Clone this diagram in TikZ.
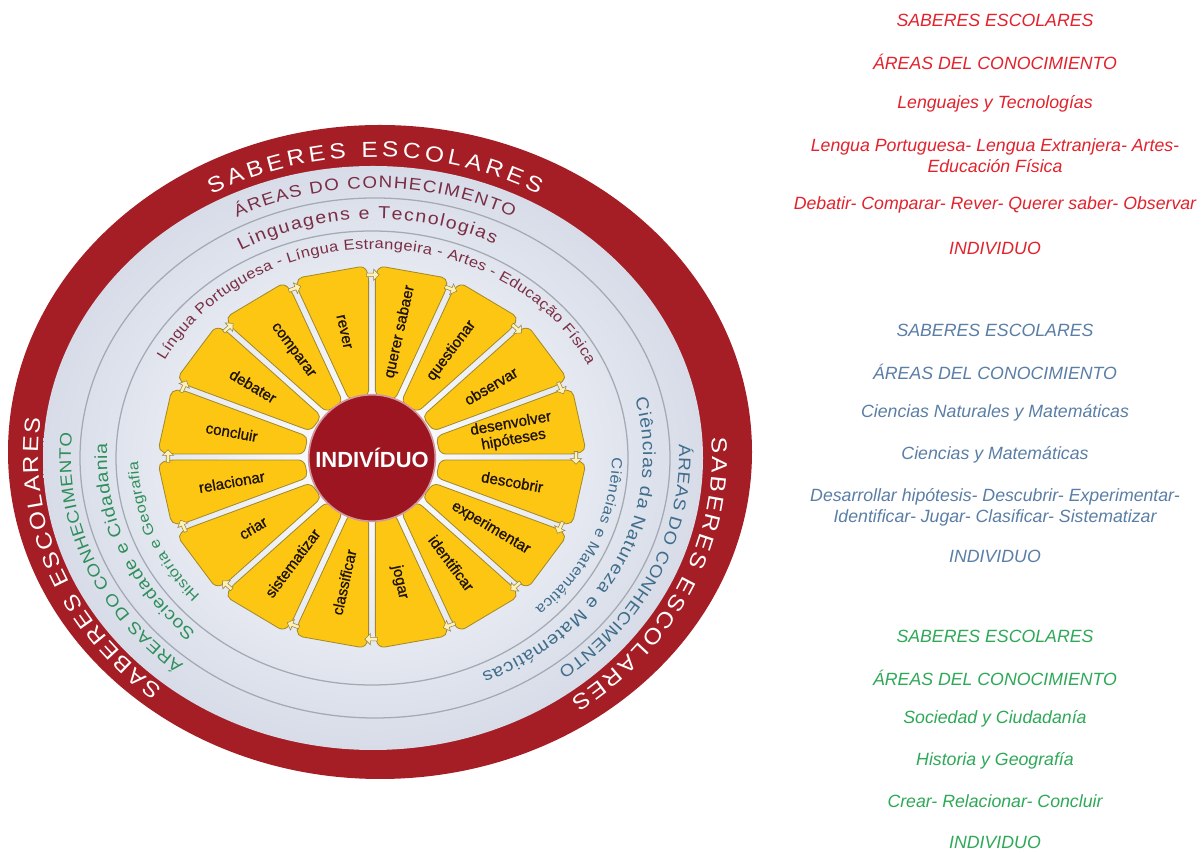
\documentclass[tikz,border=0pt]{standalone}
\usepackage{fontspec}
\setmainfont{Liberation Sans}
\newfontfamily\wheelfont[FakeStretch=1.12]{Liberation Sans}
\newfontfamily\petalfont[FakeBold=1]{Liberation Sans}
\usepackage{tikz}
\usetikzlibrary{positioning,decorations.text,shapes.arrows}
\definecolor{cRim}{HTML}{A51D25}
\definecolor{cHub}{HTML}{9C1520}
\definecolor{cBand}{HTML}{D7DCE8}
\definecolor{cLine}{HTML}{A4A9B4}
\definecolor{cPetal}{HTML}{FDC612}
\definecolor{cPetalEdge}{HTML}{A38B2B}
\definecolor{cArrow}{HTML}{FFF1B5}
\definecolor{cLang}{HTML}{7A2E45}
\definecolor{cNat}{HTML}{3F6D8C}
\definecolor{cSoc}{HTML}{2F8F5B}
\definecolor{cKeyRed}{HTML}{E2222C}
\definecolor{cKeyBlue}{HTML}{5A7EA6}
\definecolor{cKeyGreen}{HTML}{2EA957}
\newcommand\rimfont{\wheelfont\fontsize{15.5pt}{16pt}\selectfont}
\newcommand\areafont{\wheelfont\fontsize{11.9pt}{13pt}\selectfont}
\newcommand\groupfont{\wheelfont\fontsize{12.4pt}{13pt}\selectfont}
\newcommand\subjfont{\wheelfont\fontsize{10.4pt}{12pt}\selectfont}
\tikzset{
  ringline/.style={draw=cLine, line width=0.9pt},
  petal/.style   ={fill=cPetal, draw=cPetalEdge, line width=0.6pt, rounded corners=4pt},
  act/.style     ={font=\petalfont\fontsize{10.8pt}{11.5pt}\selectfont, text=black!85!brown,
                   align=center, inner sep=0pt},
  gaparrow/.style={single arrow, draw=cPetalEdge!60!gray, fill=cArrow, line width=0.4pt,
                   minimum height=9pt, minimum width=8pt,
                   single arrow head extend=1.8pt, inner sep=0.6pt},
  hub/.style     ={circle, fill=cHub, draw=cHub!45!white, line width=1.2pt,
                   minimum size=90pt, text=white,
                   font=\bfseries\fontsize{15.6pt}{16pt}\selectfont},
  ringtxt/.style ={decorate, decoration={text along path, text align={fit to path}, text={#1}}},
  key/.style     ={font=\itshape\fontsize{12.6pt}{15pt}\selectfont, align=center,
                   inner sep=0pt, on grid},
  keyred/.style  ={key, text=cKeyRed},
  keyblue/.style ={key, text=cKeyBlue},
  keygreen/.style={key, text=cKeyGreen},
}

\begin{document}
\begin{tikzpicture}[x=0.025cm, y=0.025cm]
  \useasboundingbox (0,0) rectangle (1204,853);
  \fill[white] (0,0) rectangle (1204,853);

  % rings
  \fill[cRim] (380,401) ellipse [x radius=372, y radius=327];
  \shade[inner color=white, outer color=cBand] (373,395) ellipse [x radius=330, y radius=292];
  \draw[ringline] (375,395) ellipse [x radius=295, y radius=260];
  \draw[ringline] (372,395) ellipse [x radius=256, y radius=227];

  % ring labels, all running clockwise
  \begin{scope}[shift={(375,397)}]
    \path[ringtxt={|\color{white}\rimfont|SABERES ESCOLARES}]
      (119:337 and 299) arc[start angle=119, end angle=61, x radius=337, y radius=299];
    \path[ringtxt={|\color{white}\rimfont|SABERES ESCOLARES}]
      (3.5:337 and 299) arc[start angle=3.5, end angle=-54.5, x radius=337, y radius=299];
    \path[ringtxt={|\color{white}\rimfont|SABERES ESCOLARES}]
      (231:337 and 299) arc[start angle=231, end angle=172.7, x radius=337, y radius=299];

    \path[ringtxt={|\color{cLang}\areafont|ÁREAS DO CONHECIMENTO}]
      (117:304 and 268) arc[start angle=117, end angle=63, x radius=304, y radius=268];
    \path[ringtxt={|\color{cNat}\areafont|ÁREAS DO CONHECIMENTO}]
      (2.5:304 and 268) arc[start angle=2.5, end angle=-53, x radius=304, y radius=268];
    \path[ringtxt={|\color{cSoc}\areafont|ÁREAS DO CONHECIMENTO}]
      (231:304 and 268) arc[start angle=231, end angle=175, x radius=304, y radius=268];

    \path[ringtxt={|\color{cLang}\groupfont|Linguagens e Tecnologias}]
      (120:268 and 237) arc[start angle=120, end angle=63.5, x radius=268, y radius=237];
    \path[ringtxt={|\color{cNat}\groupfont|Ciências da Natureza e Matemáticas}]
      (14:268 and 237) arc[start angle=14, end angle=-66.5, x radius=268, y radius=237];
    \path[ringtxt={|\color{cSoc}\groupfont|Sociedade e Cidadania}]
      (228:268 and 237) arc[start angle=228, end angle=177, x radius=268, y radius=237];

    \path[ringtxt={|\color{cLang}\subjfont|Língua Portuguesa - Língua Estrangeira - Artes - Educação Física}]
      (152.5:237 and 207) arc[start angle=152.5, end angle=26, x radius=237, y radius=207];
    \path[ringtxt={|\color{cNat}\subjfont|Ciências e Matemática}]
      (-0.5:237 and 207) arc[start angle=-0.5, end angle=-47.5, x radius=237, y radius=207];
    \path[ringtxt={|\color{cSoc}\subjfont|História e Geografia}]
      (222.5:237 and 207) arc[start angle=222.5, end angle=181.5, x radius=237, y radius=207];
  \end{scope}

  % petals with the activities
  \begin{scope}[shift={(372,396)}, yscale=0.893]
    \foreach \lbl [count=\i from 0] in {descobrir, {desenvolver\\hipóteses}, observar,
        questionar, querer sabaer, rever, comparar, debater, concluir, relacionar,
        criar, sistematizar, classificar, jogar, identificar, experimentar}{
      \pgfmathsetmacro\c{-11.25+22.5*\i}
      \filldraw[petal] ({\c-8.4}:68) -- ({\c-10.3}:203) -- ({\c-9.3}:214)
        -- ({\c+9.3}:214) -- ({\c+10.3}:203) -- ({\c+8.4}:68) -- cycle;
      \pgfmathsetmacro\vis{atan2(0.893*sin(\c),cos(\c))}
      \pgfmathsetmacro\rot{cos(\c)>0 ? \vis : \vis+180}
      \node[act, rotate=\rot] (act\i) at (\c:143) {\lbl};
    }
    % small arrows between the petals, turning clockwise
    \foreach \k in {0,...,15}{
      \pgfmathsetmacro\g{22.5*\k}
      \pgfmathsetmacro\dir{atan2(-0.893*cos(\g),sin(\g))}
      \node[gaparrow, rotate=\dir] (gap\k) at (\g:204) {};
    }
  \end{scope}

  \node[hub] (indiv) at (372,395) {INDIVÍDUO};

  % key in Spanish
  \node[keyred] (kr1) at (995,833) {SABERES ESCOLARES};
  \node[keyred, below=1.05cm of kr1] (kr2) {ÁREAS DEL CONOCIMIENTO};
  \node[keyred, below=1.05cm of kr2] (kr3) {Lenguajes y Tecnologías};
  \node[keyred, below=1.3cm of kr3]  (kr4) {Lengua Portuguesa- Lengua Extranjera- Artes-\\Educación Física};
  \node[keyred, below=1.22cm of kr4] (kr5) {Debatir- Comparar- Rever- Querer saber- Observar};
  \node[keyred, below=1.1cm of kr5]  (kr6) {INDIVIDUO};

  \node[keyblue] (kb1) at (995,523) {SABERES ESCOLARES};
  \node[keyblue, below=1.05cm of kb1] (kb2) {ÁREAS DEL CONOCIMIENTO};
  \node[keyblue, below=1.03cm of kb2] (kb3) {Ciencias Naturales y Matemáticas};
  \node[keyblue, below=1.03cm of kb3] (kb4) {Ciencias y Matemáticas};
  \node[keyblue, below=1.32cm of kb4] (kb5) {Desarrollar hipótesis- Descubrir- Experimentar-\\Identificar- Jugar- Clasificar- Sistematizar};
  \node[keyblue, below=1.22cm of kb5] (kb6) {INDIVIDUO};

  \node[keygreen] (kg1) at (995,217) {SABERES ESCOLARES};
  \node[keygreen, below=1.05cm of kg1] (kg2) {ÁREAS DEL CONOCIMIENTO};
  \node[keygreen, below=1.03cm of kg2] (kg3) {Sociedad y Ciudadanía};
  \node[keygreen, below=1.03cm of kg3] (kg4) {Historia y Geografía};
  \node[keygreen, below=1.03cm of kg4] (kg5) {Crear- Relacionar- Concluir};
  \node[keygreen, below=1.02cm of kg5] (kg6) {INDIVIDUO};
\end{tikzpicture}
\end{document}
